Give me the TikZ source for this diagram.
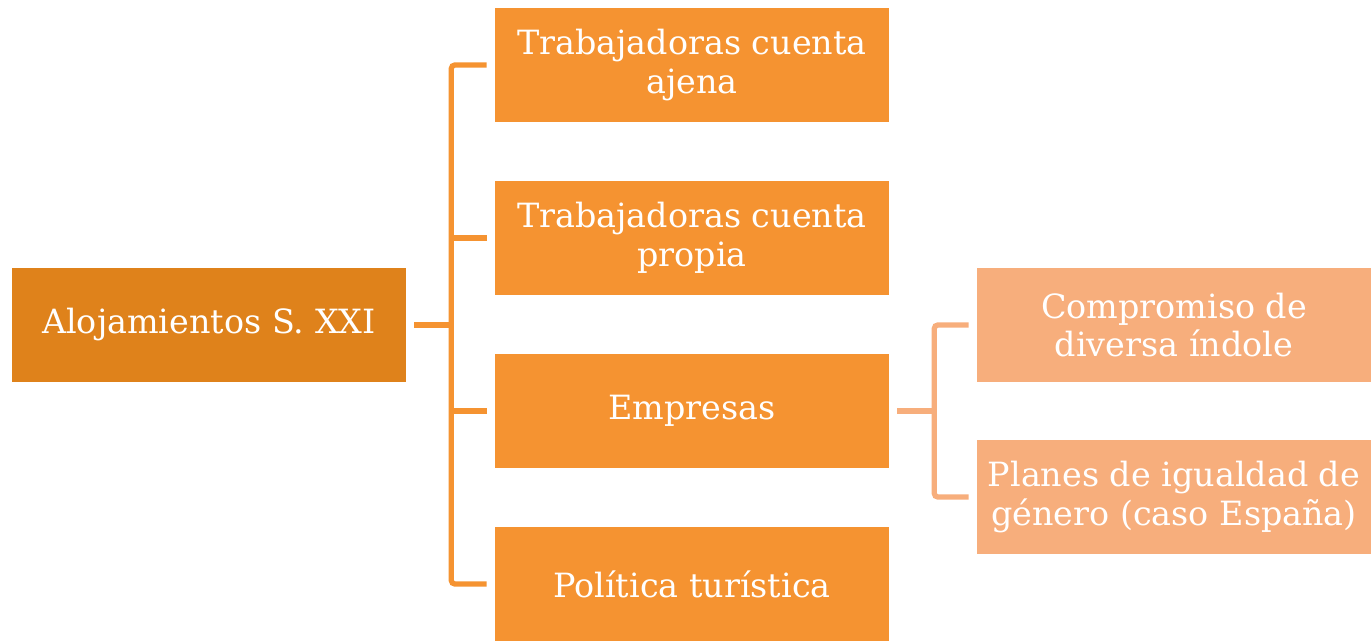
\documentclass[tikz,border=0pt]{standalone}
\usepackage{fontspec}
\setmainfont{DejaVu Serif}
\usepackage{tikz}
\definecolor{rootorange}{RGB}{223,130,27}
\definecolor{midorange}{RGB}{245,147,49}
\definecolor{paleorange}{RGB}{247,174,124}
\tikzset{
  box/.style={rectangle,minimum width=7.88cm,minimum height=2.28cm,inner sep=0pt,
    align=center,text=white,font=\fontsize{19}{22}\selectfont},
  rootbox/.style={box,fill=rootorange},
  midbox/.style={box,fill=midorange},
  palebox/.style={box,fill=paleorange},
  trunk/.style={draw=midorange,line width=3pt,rounded corners=2pt},
  branch/.style={draw=paleorange,line width=3pt,rounded corners=2pt}
}
\begin{document}
\begin{tikzpicture}[x=0.02cm,y=-0.02cm]
        \useasboundingbox (0,0) rectangle (1371,641);
        \node[rootbox] (root) at (209,325) {Alojamientos S. XXI};
        \node[midbox] (ajena) at (692,65) {Trabajadoras cuenta\\ajena};
        \node[midbox] (propia) at (692,238) {Trabajadoras cuenta\\propia};
        \node[midbox] (empresas) at (692,411) {Empresas};
        \node[midbox] (politica) at (692,584) {Política turística};
        \node[palebox] (compromiso) at (1174,325) {Compromiso de\\diversa índole};
        \node[palebox] (planes) at (1174,497) {Planes de igualdad de\\género (caso España)};
        % first level
        \draw[trunk] ([xshift=.16cm]root.east) -- ++(37,0) coordinate (spine);
        \draw[trunk] ([xshift=-.16cm]ajena.west) -| (spine |- politica.west) -- ([xshift=-.16cm]politica.west);
        \draw[trunk] (spine |- propia.west) -- ([xshift=-.16cm]propia.west);
        \draw[trunk] (spine |- empresas.west) -- ([xshift=-.16cm]empresas.west);
        % second level
        \draw[branch] ([xshift=.16cm]empresas.east) -- ++(37,0) coordinate (twig);
        \draw[branch] ([xshift=-.16cm]compromiso.west) -| (twig |- planes.west) -- ([xshift=-.16cm]planes.west);
    \end{tikzpicture}
\end{document}
